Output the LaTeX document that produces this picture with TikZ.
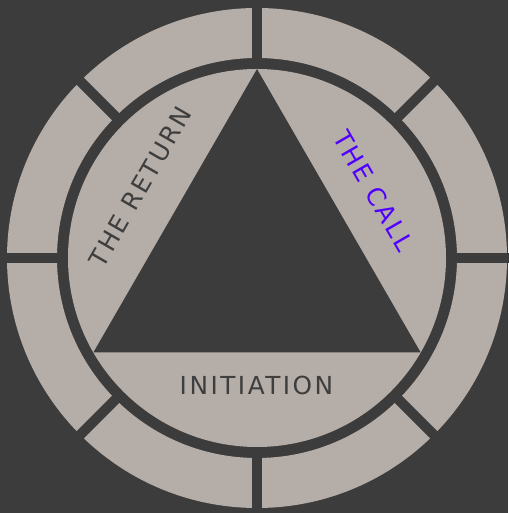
\documentclass[tikz,border=0pt]{standalone}
\usepackage{fontspec}
\setmainfont{DejaVu Sans}[LetterSpace=10]
\definecolor{bg}{HTML}{3C3C3C}
\definecolor{ringgray}{HTML}{B5ADA7}
\definecolor{callblue}{HTML}{5000FF}
\definecolor{textdark}{HTML}{3E3E3E}
\tikzset{
  lbl/.style={inner sep=0pt, text=textdark, font=\fontsize{24.8}{29}\selectfont},
  gapline/.style={draw=bg, line width=10pt}
}
\begin{document}
\begin{tikzpicture}[x=1pt,y=1pt]
\fill[bg] (0,0) rectangle (508,513);
\useasboundingbox (0,0) rectangle (508,513);
\coordinate (c) at (257,255);
% outer ring
\fill[ringgray,even odd rule] (c) circle (250) (c) circle (200);
\foreach \a in {0,45,...,315}
  \draw[gapline,shift={(c)}] (\a:194) -- (\a:258);
% inner disc and triangle
\fill[ringgray] (c) circle (189);
\fill[bg,shift={(c)}] (90:189) -- (210:189) -- (330:189) -- cycle;
% labels
\node[lbl, rotate=60] (ret) at (140.5,326) {THE RETURN};
\node[lbl, text=callblue, rotate=-60] (call) at (373.5,322) {THE CALL};
\node[lbl] (init) at (256.5,127.5) {INITIATION};
\end{tikzpicture}
\end{document}
